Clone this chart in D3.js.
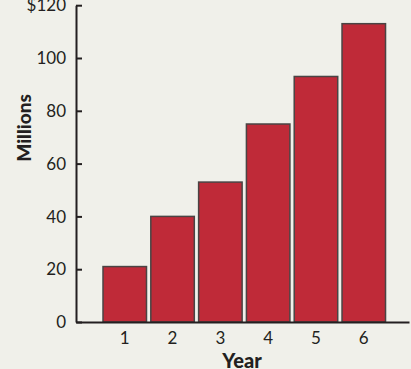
<!DOCTYPE html>
<html>
<head>
<meta charset="utf-8">
<script src="https://cdn.jsdelivr.net/npm/d3@7"></script>
<style>
  html, body { margin: 0; padding: 0; background: #f0f0ea; }
  svg { display: block; }
  text { font-family: Lato, "Open Sans", sans-serif; fill: #231f20; }
</style>
</head>
<body>
<script>
// Revenue by year, in millions of dollars
const years = ["1", "2", "3", "4", "5", "6"];
const revenue = [21, 40, 53, 75, 93, 113];
const yTicks = [0, 20, 40, 60, 80, 100, 120];
const yTickLabels = ["0", "20", "40", "60", "80", "100", "$120"];

const W = 411, H = 369;
const svg = d3.select("body").append("svg").attr("width", W).attr("height", H);

const x = d3.scaleBand()
  .domain(years)
  .range([76, 409])
  .paddingInner(0.09)
  .paddingOuter(0.528)
  .align(0.535);

const y = d3.scaleLinear().domain([0, 120]).range([322, 5.2]);

// Bars
svg.append("g").selectAll("rect")
  .data(revenue)
  .join("rect")
  .attr("x", (d, i) => x(years[i]))
  .attr("y", d => y(d))
  .attr("width", x.bandwidth())
  .attr("height", d => y(0) - y(d))
  .attr("fill", "#bf2a38")
  .attr("stroke", "#4a4444")
  .attr("stroke-width", 1.5);

// Y axis: ticks point inward, labels on the left
const yAxis = d3.axisRight(y)
  .tickValues(yTicks)
  .tickFormat((d, i) => yTickLabels[i])
  .tickSize(6)
  .tickSizeOuter(0);

const gy = svg.append("g").attr("transform", "translate(76,0)").call(yAxis);
gy.select(".domain").attr("stroke", "#231f20").attr("stroke-width", 2);
gy.selectAll(".tick line").attr("stroke", "#231f20").attr("stroke-width", 2);
gy.selectAll(".tick text")
  .attr("x", -10)
  .attr("text-anchor", "end")
  .attr("dy", "0.34em")
  .style("font-size", "17px")
  .style("font-family", "Lato, 'Open Sans', sans-serif")
  .attr("fill", "#231f20");

// X axis: baseline with labels, no tick marks
const xAxis = d3.axisBottom(x).tickSize(0).tickSizeOuter(0);
const gx = svg.append("g").attr("transform", `translate(0,${y(0)})`).call(xAxis);
gx.select(".domain").attr("stroke", "#231f20").attr("stroke-width", 2);
gx.selectAll(".tick text")
  .attr("y", 10)
  .style("font-size", "17px")
  .style("font-family", "Lato, 'Open Sans', sans-serif")
  .attr("fill", "#231f20");

// Axis titles
svg.append("text")
  .attr("x", 242)
  .attr("y", 368)
  .attr("text-anchor", "middle")
  .style("font-size", "20px")
  .style("font-weight", "900")
  .text("Year");

svg.append("text")
  .attr("transform", "translate(31,128) rotate(-90)")
  .attr("text-anchor", "middle")
  .style("font-size", "19px")
  .style("font-weight", "900")
  .text("Millions");
</script>
</body>
</html>
